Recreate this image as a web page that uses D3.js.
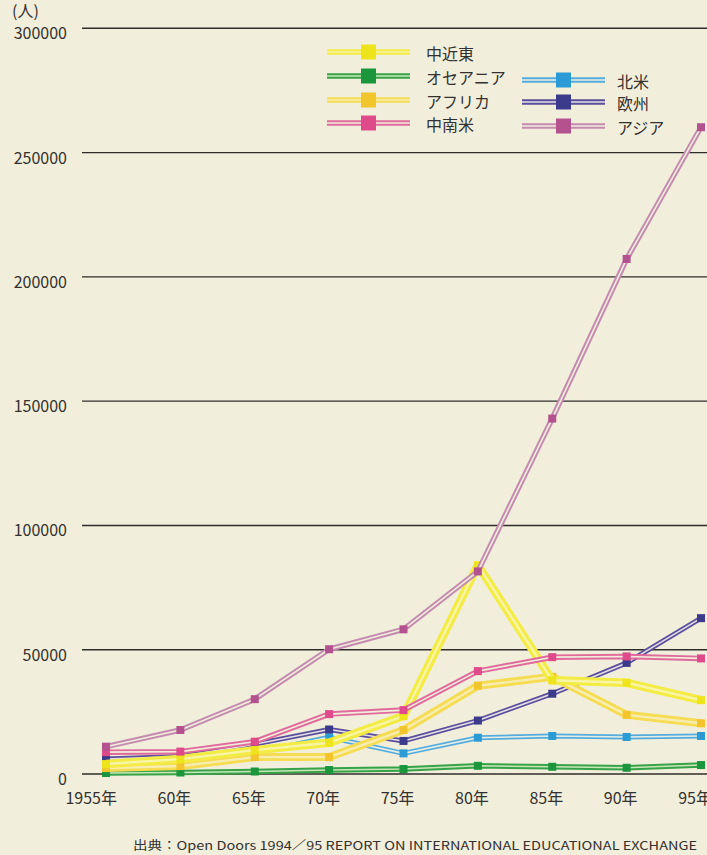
<!DOCTYPE html>
<meta charset="utf-8">
<style>
  body { margin: 0; background: #f2eedc; }
  svg text { font-family: "Noto Sans CJK JP", "Noto Sans", sans-serif; fill: #33312f; }
  .grid line { stroke: #2e2c2a; stroke-width: 1.4; }
</style>
<body>
<svg class="chart" width="707" height="855"></svg>
</body>
<script src="https://cdn.jsdelivr.net/npm/d3@7"></script>
<script>

// data
var years = [1955, 1960, 1965, 1970, 1975, 1980, 1985, 1990, 1995];
var yearLabels = ["1955年", "60年", "65年", "70年", "75年", "80年", "85年", "90年", "95年"];
var yTicks = [0, 50000, 100000, 150000, 200000, 250000, 300000];

var names = ["中近東", "オセアニア", "アフリカ", "中南米", "北米", "欧州", "アジア"];
var middleEast = [4000, 6000, 9600, 12600, 23300, 84000, 37700, 36700, 29700];
var oceania    = [400, 600, 1000, 1600, 2000, 3300, 2900, 2500, 3600];
var africa     = [2400, 3200, 6800, 6800, 17700, 35500, 39100, 23800, 20400];
var latinAm    = [8800, 9000, 13000, 24100, 25700, 41400, 47000, 47300, 46500];
var northAm    = [4800, 5500, 8500, 14800, 8300, 14600, 15300, 14900, 15300];
var europe     = [6000, 7000, 12000, 17900, 13300, 21500, 32300, 44700, 62700];
var asia       = [11000, 17700, 30100, 50200, 58200, 81500, 143000, 207200, 260200];

var values = [middleEast, oceania, africa, latinAm, northAm, europe, asia];

// look of each series: outer line, inner stripe, square
var looks = [
  { outer: "#f3ec45", inner: "#f8f4a8", mark: "#eee41c", w: 8.5 },
  { outer: "#36a349", inner: "#c9e6b8", mark: "#1b963c", w: 5.5 },
  { outer: "#f5dc52", inner: "#f8edb0", mark: "#f3c52c", w: 8 },
  { outer: "#e06a9c", inner: "#f2eedc", mark: "#df4a8a", w: 5.5 },
  { outer: "#55acdc", inner: "#e6efe6", mark: "#2b9bd6", w: 5 },
  { outer: "#5a4e9a", inner: "#e4e0e6", mark: "#3c3a8a", w: 5 },
  { outer: "#c48aaf", inner: "#f2eedc", mark: "#b4528f", w: 5.5 }
];

var svg = d3.select("svg");

var x = d3.scalePoint().domain(years).range([106, 701]);
var y = d3.scaleLinear().domain([0, 300000]).range([774, 28.3]);

// gridlines + y labels
var grid = svg.append("g").attr("class", "grid");
grid.selectAll("line")
  .data(yTicks)
  .enter().append("line")
    .attr("x1", 82).attr("x2", 707)
    .attr("y1", function(d) { return y(d); })
    .attr("y2", function(d) { return y(d); });

grid.selectAll("text")
  .data(yTicks)
  .enter().append("text")
    .attr("x", 67)
    .attr("y", function(d) { return y(d) + 4; })
    .attr("text-anchor", "end")
    .attr("dominant-baseline", "central")
    .attr("font-size", 16)
    .text(function(d) { return d; });

svg.append("text")
  .attr("x", 12).attr("y", 10)
  .attr("dominant-baseline", "central")
  .attr("font-size", 16)
  .text("(人)");

// x labels
svg.append("g").selectAll("text")
  .data(years)
  .enter().append("text")
    .attr("x", function(d) { return x(d) + 11; })
    .attr("y", 797)
    .attr("text-anchor", "end")
    .attr("dominant-baseline", "central")
    .attr("font-size", 16)
    .text(function(d, i) { return yearLabels[i]; });

var line = d3.line()
  .x(function(d, i) { return x(years[i]); })
  .y(function(d) { return y(d); });

var order = [1, 4, 5, 2, 0, 3, 6];

order.forEach(function(k) {
  var g = svg.append("g");
  g.append("path")
    .attr("d", line(values[k]))
    .attr("fill", "none")
    .attr("stroke", looks[k].outer)
    .attr("stroke-width", looks[k].w)
    .attr("stroke-linejoin", "round");
  g.append("path")
    .attr("d", line(values[k]))
    .attr("fill", "none")
    .attr("stroke", looks[k].inner)
    .attr("stroke-width", looks[k].w > 7 ? 2.4 : 1.6)
    .attr("stroke-linejoin", "round");
  g.selectAll("rect")
    .data(values[k])
    .enter().append("rect")
      .attr("x", function(d, i) { return x(years[i]) - 4; })
      .attr("y", function(d) { return y(d) - 4; })
      .attr("width", 8).attr("height", 8)
      .attr("fill", looks[k].mark);
});

// legend
var legendPos = [
  { x: 327, y: 52 }, { x: 327, y: 76 }, { x: 327, y: 100 }, { x: 327, y: 123 },
  { x: 522, y: 80 }, { x: 522, y: 102 }, { x: 522, y: 126 }
];

var legend = svg.append("g");
names.forEach(function(n, k) {
  var p = legendPos[k];
  var g = legend.append("g").attr("transform", "translate(" + p.x + "," + p.y + ")");
  g.append("line").attr("x1", 0).attr("x2", 83)
    .attr("stroke", looks[k].outer).attr("stroke-width", 5.5);
  g.append("line").attr("x1", 0).attr("x2", 83)
    .attr("stroke", looks[k].inner).attr("stroke-width", 1.6);
  g.append("rect").attr("x", 34).attr("y", -7.5)
    .attr("width", 15).attr("height", 15)
    .attr("fill", looks[k].mark);
  g.append("text").attr("x", k < 4 ? 99 : 95).attr("y", 1)
    .attr("dominant-baseline", "central")
    .attr("font-size", 16)
    .text(n);
});

// source
svg.append("text")
  .attr("x", 133).attr("y", 844)
  .attr("dominant-baseline", "central")
  .attr("font-size", 12)
  .attr("textLength", 564)
  .attr("lengthAdjust", "spacingAndGlyphs")
  .text("出典：Open Doors 1994／95 REPORT ON INTERNATIONAL EDUCATIONAL EXCHANGE");

</script>
